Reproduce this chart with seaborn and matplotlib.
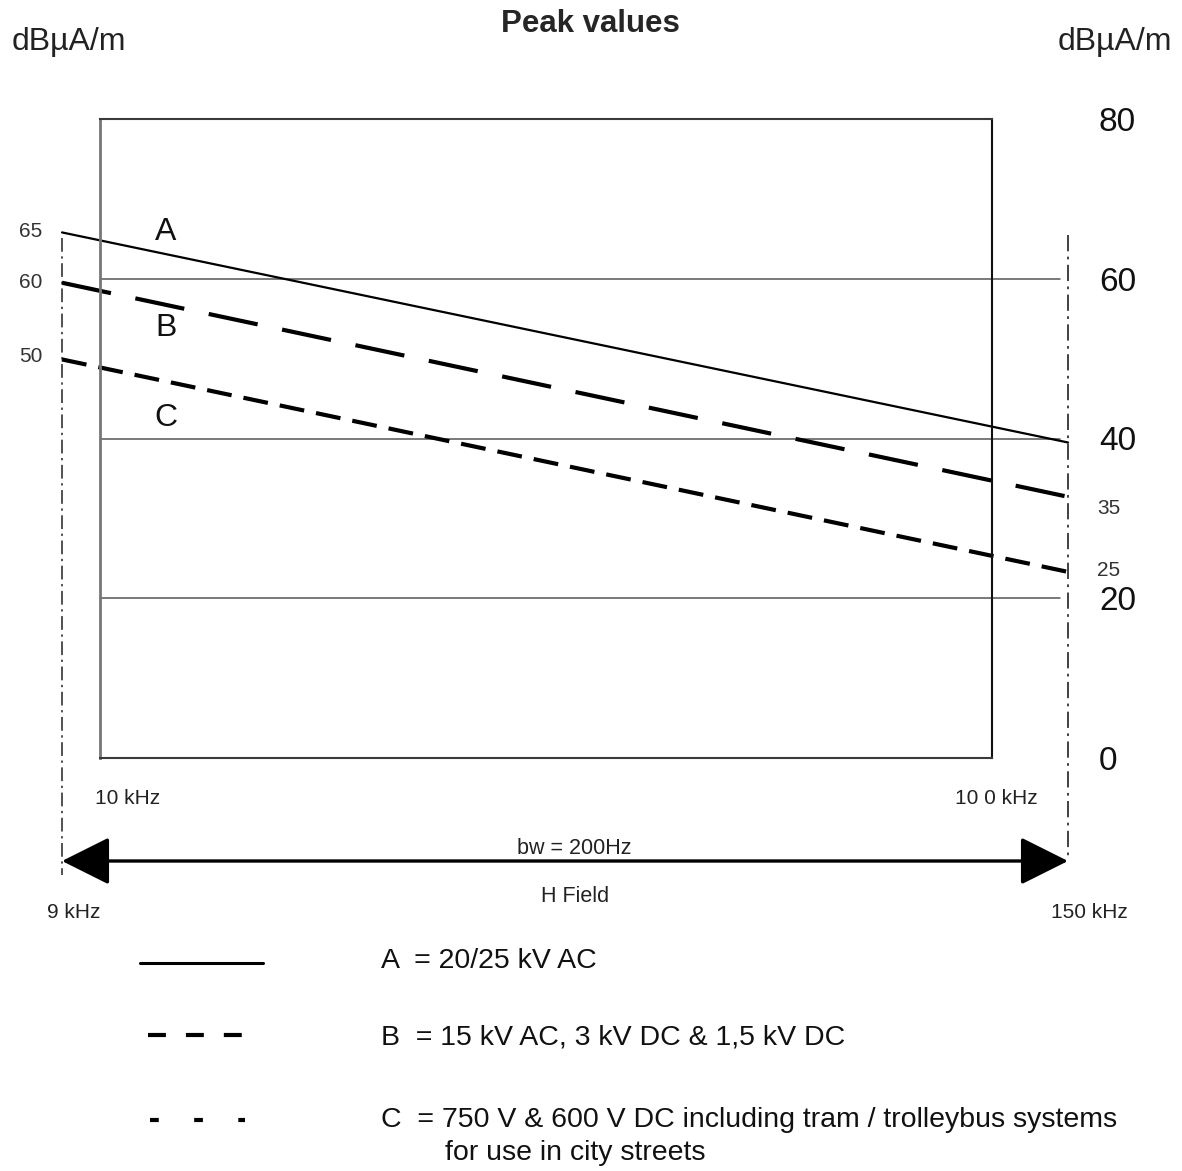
import numpy as np
import pandas as pd
import matplotlib
matplotlib.use("Agg")
import matplotlib.pyplot as plt
from matplotlib.lines import Line2D
from matplotlib.patches import FancyArrowPatch
import seaborn as sns

# frequency scale (drawing is neither linear nor log, so positions are mapped by hand)
freq_labels = ["9 kHz", "10 kHz", "10 0 kHz", "150 kHz"]
freq_pos = [-0.0426, 0.0, 1.0, 1.0852]

# limit lines, values at 9 kHz and 150 kHz (dBuA/m)
series = ["A", "B", "C"]
line_A = [65.8, 39.5]
line_B = [59.5, 32.7]
line_C = [49.9, 23.3]
end_labels_left = ["65", "60", "50"]
end_labels_right = ["", "35", "25"]

grid_levels = [60, 40, 20]
right_ticks = [0, 20, 40, 60, 80]

legend_text = ["A  = 20/25 kV AC",
               "B  = 15 kV AC, 3 kV DC & 1,5 kV DC",
               "C  = 750 V & 600 V DC including tram / trolleybus systems"]
legend_extra = "for use in city streets"

W, H = 1182, 1171
sns.set_style("white")
plt.rcParams["font.family"] = ["Liberation Sans", "DejaVu Sans"]

fig = plt.figure(figsize=(W / 100, H / 100), dpi=100)
ax = fig.add_axes([100 / W, 1 - 758 / H, 892 / W, 639 / H])

def px_x(p):
    return (p - 100) / 892

def px_y(p):
    return (758 - p) / 639 * 80

for s in ax.spines.values():
    s.set_color("#3a3a3a")
    s.set_linewidth(1.5)
ax.spines["left"].set_color("#777777")
ax.spines["left"].set_linewidth(2)
ax.spines["right"].set_color("#111111")

# horizontal reference lines
for lv in grid_levels:
    ax.plot([freq_pos[1], px_x(1060)], [lv, lv], color="#555555", lw=1.1, clip_on=False)

# dash-dot band edges at 9 kHz and 150 kHz
ax.plot([freq_pos[0]] * 2, [px_y(238), px_y(875)], color="#222222", lw=1.1,
        dashes=(9, 3, 1.5, 3), clip_on=False)
ax.plot([freq_pos[3]] * 2, [px_y(235), px_y(857)], color="#333333", lw=1.3,
        dashes=(9, 3, 1.5, 3), clip_on=False)

df = pd.DataFrame({
    "pos": [freq_pos[0], freq_pos[3]] * 3,
    "value": line_A + line_B + line_C,
    "series": np.repeat(series, 2),
})
styles = {"A": dict(lw=1.6, dashes=None),
          "B": dict(lw=3.0, dashes=(12, 6)),
          "C": dict(lw=3.0, dashes=(6, 2.9))}
for s in series:
    sub = df[df["series"] == s]
    sns.lineplot(data=sub, x="pos", y="value", ax=ax, color="black", lw=styles[s]["lw"],
                 legend=False)
    ln = ax.lines[-1]
    ln.set_clip_on(False)
    if styles[s]["dashes"]:
        ln.set_dashes(styles[s]["dashes"])

ax.set_xlim(0, 1)
ax.set_ylim(0, 80)
ax.set_xlabel("")
ax.set_ylabel("")
ax.set_xticks([])
ax.yaxis.tick_right()
ax.set_yticks(right_ticks)
ax.set_yticklabels([str(v) for v in right_ticks])
ax.tick_params(axis="y", length=0, pad=77, labelsize=24, labelcolor="#111111")

# curve letters
for s, yv in zip(series, [232, 328, 418]):
    ax.text(px_x(166), px_y(yv), s, fontsize=23, ha="center", va="center", color="#111111")

# end value labels
for lab, yp in zip(end_labels_left, [232, 283, 357]):
    ax.text(px_x(31), px_y(yp), lab, fontsize=15, ha="center", va="center",
            color="#333333", clip_on=False)
for lab, yp in zip(end_labels_right, [0, 508, 571]):
    if lab:
        ax.text(px_x(1109), px_y(yp), lab, fontsize=15, ha="center", va="center",
                color="#333333", clip_on=False)

# frequency labels
small = dict(fontsize=15, ha="center", va="center", color="#222222")
ax.text(px_x(128), px_y(798), freq_labels[1], **small)
ax.text(px_x(996), px_y(798), freq_labels[2], **small)
ax.text(px_x(74), px_y(912), freq_labels[0], **small)
ax.text(px_x(1089), px_y(912), freq_labels[3], **small)

# bandwidth arrow
arr = FancyArrowPatch((freq_pos[0], px_y(861)), (freq_pos[3], px_y(861)),
                      arrowstyle="<|-|>,head_length=2,head_width=1", mutation_scale=15,
                      color="black", lw=2.4, shrinkA=0, shrinkB=0, clip_on=False)
ax.add_patch(arr)
ax.text(px_x(574), px_y(848), "bw = 200Hz", fontsize=15.5, ha="center", va="center", color="#222222")
ax.text(px_x(575), px_y(896), "H Field", fontsize=15.5, ha="center", va="center", color="#222222")

# titles
fig.text(590 / W, 1 - 24 / H, "Peak values", fontsize=22.5, fontweight="bold", ha="center", va="center")
fig.text(12 / W, 1 - 42 / H, "dBµA/m", fontsize=23, ha="left", va="center", color="#222222")
fig.text(1172 / W, 1 - 42 / H, "dBµA/m", fontsize=23, ha="right", va="center", color="#222222")

# legend
leg_styles = [dict(lw=2.2), dict(lw=3.0, dashes=(4.3, 4.8)), dict(lw=3.0, dashes=(2.1, 8.5))]
leg_y = [963, 1035, 1120]
leg_x = [(140, 263), (148, 258), (150, 245)]
for st, yp, (x0, x1) in zip(leg_styles, leg_y, leg_x):
    l = Line2D([x0 / W, x1 / W], [1 - yp / H] * 2, color="black", transform=fig.transFigure, **st)
    fig.add_artist(l)
for txt, yp in zip(legend_text, [961, 1038, 1120]):
    fig.text(381 / W, 1 - yp / H, txt, fontsize=20.5, ha="left", va="center", color="#111111")
fig.text(445 / W, 1 - 1153 / H, legend_extra, fontsize=20.5, ha="left", va="center", color="#111111")

fig.savefig("out.png", dpi=100)
